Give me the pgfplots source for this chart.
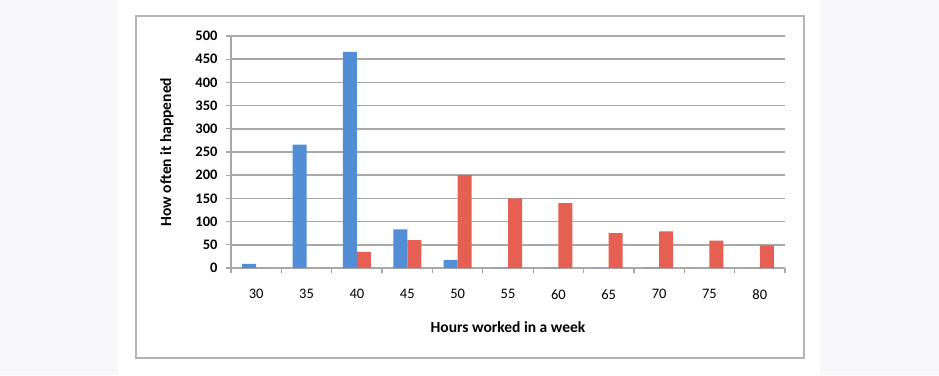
\documentclass[border=0pt]{standalone}
\usepackage{pgfplots}
\pgfplotsset{compat=1.18}
\usepackage{fontspec}
\setmainfont{Carlito}
\definecolor{barblue}{HTML}{518ED6}
\definecolor{barred}{HTML}{E56053}
\definecolor{gridgray}{HTML}{A8A8A8}
\definecolor{bggray}{HTML}{F8F7FA}
\definecolor{boxgray}{HTML}{B4B4B4}
\begin{document}
\begin{tikzpicture}[x=1pt,y=1pt]
\useasboundingbox (0,0) rectangle (939,375);
\fill[bggray] (0,0) rectangle (939,375);
\fill[white] (118,0) rectangle (820,375);
\draw[boxgray, line width=1.6pt] (136,17) rectangle (804,359);
\begin{axis}[
  at={(231pt,107pt)}, anchor=south west,
  scale only axis, width=554pt, height=232pt,
  ybar=0pt, bar width=14pt,
  xmin=-0.5, xmax=10.5, ymin=0, ymax=500,
  ytick={0,50,...,500},
  xtick={0,...,10},
  xticklabels={30,35,40,45,50,55,60,65,70,75,80},
  minor xtick={-0.5,0.5,...,10.5},
  major x tick style={draw=none},
  minor x tick style={gridgray, line width=1.2pt},
  minor tick length=5pt,
  major tick length=5pt,
  tick align=outside,
  y tick style={gridgray, line width=1.2pt},
  ymajorgrids, grid style={gridgray, line width=1.6pt},
  axis x line*=bottom, axis y line*=left,
  axis line style={gridgray, line width=1.6pt, -},
  tick label style={font=\fontsize{14.5}{16}\selectfont, text=black},
  yticklabel style={font=\fontsize{14.5}{16}\selectfont\bfseries, xshift=-5pt},
  xticklabel style={yshift=-13pt},
  xlabel={\textbf{Hours worked in a week}},
  ylabel={\textbf{How often it happened}},
  label style={font=\fontsize{15.5}{17}\selectfont},
  xlabel style={yshift=-15pt},
  ylabel style={yshift=15pt},
  /pgf/number format/assume math mode=true,
]
\addplot[fill=barblue, draw=none] coordinates {(0,9) (1,266) (2,466) (3,83) (4,17) (5,1) (6,1) (7,0) (8,1) (9,0) (10,0)};
\addplot[fill=barred, draw=none] coordinates {(0,0) (1,0) (2,35) (3,60) (4,200) (5,150) (6,140) (7,75) (8,79) (9,59) (10,49)};
\end{axis}
\end{tikzpicture}
\end{document}
